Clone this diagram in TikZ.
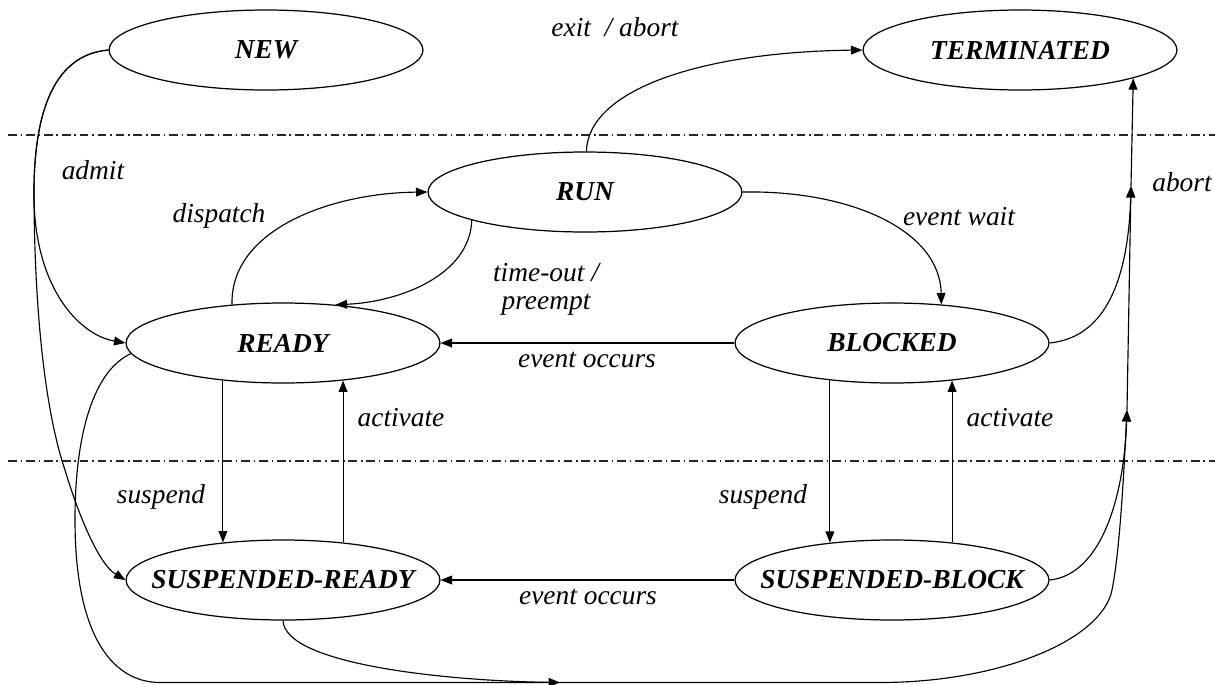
\documentclass[tikz,border=0pt]{standalone}
\usepackage{fontspec}
\setmainfont{Liberation Serif}
\usetikzlibrary{shapes.geometric,arrows.meta}
\newcommand{\nt}[1]{\makebox[0pt]{#1}}
\begin{document}
\begin{tikzpicture}[x=0.02cm,y=-0.02cm,
  st/.style={ellipse,draw,line width=0.7pt,minimum width=6.28cm,minimum height=1.6cm,inner sep=0pt,
    font=\fontsize{15.6}{18}\selectfont\bfseries\itshape},
  lb/.style={font=\fontsize{15.6}{16}\selectfont\itshape,inner sep=0pt,align=center},
  ar/.style={line width=0.65pt,-{Triangle[length=6.5pt,width=5pt]}},
  sep/.style={line width=0.6pt,black!85,dash pattern=on 5pt off 2.2pt on 0.8pt off 2.2pt}]
\useasboundingbox (0,0) rectangle (1215,684);

% separators
\draw[sep] (8,135) -- (1215,135);
\draw[sep] (8,461) -- (1215,461);

% states
\node[st] (new) at (266,50) {\nt{NEW}};
\node[st] (term) at (1020,50) {\nt{TERMINATED}};
\node[st] (run) at (585,192) {\nt{RUN}};
\node[st] (ready) at (283,343) {\nt{READY}};
\node[st] (blocked) at (892,343) {\nt{BLOCKED}};
\node[st] (sready) at (283,580) {\nt{SUSPENDED-READY}};
\node[st] (sblock) at (892,580) {\nt{SUSPENDED-BLOCK}};

% junctions
\coordinate (j1) at (1131,186);
\coordinate (j2) at (1127,410);
\coordinate (jb) at (560,682.5);

% labels
\node[lb] (ladmit) at (93,170) {admit};
\node[lb] (ldisp) at (219,216) {dispatch};
\node[lb] (ltime) at (546,289) {time-out /\\preempt};
\node[lb] (lexit) at (615,27) {exit \ / abort};
\node[lb] (lwait) at (959,217) {event wait};
\node[lb] (labort) at (1182,182) {abort};
\node[lb] (leo1) at (587,360) {event occurs};
\node[lb] (leo2) at (588,597) {event occurs};
\node[lb] (lsus1) at (161,497) {suspend};
\node[lb] (lact1) at (401,418) {activate};
\node[lb] (lsus2) at (763,497) {suspend};
\node[lb] (lact2) at (1010,418) {activate};

% admit
\draw[ar] (new.west) .. controls (50,55) and (33,120) .. (34,200)
  .. controls (36,290) and (80,335) .. (ready.west);
\draw[ar] (new.west) .. controls (50,55) and (33,120) .. (34,200)
  .. controls (35,330) and (48,420) .. (65,470)
  .. controls (80,520) and (100,565) .. (sready.west);

% dispatch / timeout
\draw[ar] (ready.143) .. controls (230,230) and (330,193) .. (run.west);
\draw[ar] (run.194) .. controls (470,275) and (400,302) .. (ready.36);

% event wait
\draw[ar] (run.east) .. controls (850,190) and (940,230) .. (blocked.38);

% exit / abort
\draw[ar] (run.88) .. controls (588,90) and (700,52) .. (term.west);

% event occurs
\draw[ar] (blocked.west) -- (ready.east);
\draw[ar] (sblock.west) -- (sready.east);

% suspend / activate
\draw[ar] (ready.212) -- (sready.148);
\draw[ar] (sready.32) -- (ready.328);
\draw[ar] (blocked.211) -- (sblock.149);
\draw[ar] (sblock.32) -- (blocked.328);

% abort
\draw[ar] (j1) -- (term.346);
\draw[ar] (j2) -- (j1);
\draw[ar] (blocked.east) .. controls (1100,338) and (1128,290) .. (j1);
\draw[ar] (sblock.east) .. controls (1100,575) and (1124,500) .. (j2);
\draw[ar] (ready.184) .. controls (95,370) and (75,430) .. (75,520)
  .. controls (75,640) and (115,682.5) .. (160,682.5) -- (880,682.5)
  .. controls (1000,682.5) and (1102,640) .. (1112,590)
  .. controls (1120,550) and (1124,470) .. (j2);
\draw[ar] (sready.south) .. controls (285,665) and (450,681) .. (jb);
\end{tikzpicture}
\end{document}
